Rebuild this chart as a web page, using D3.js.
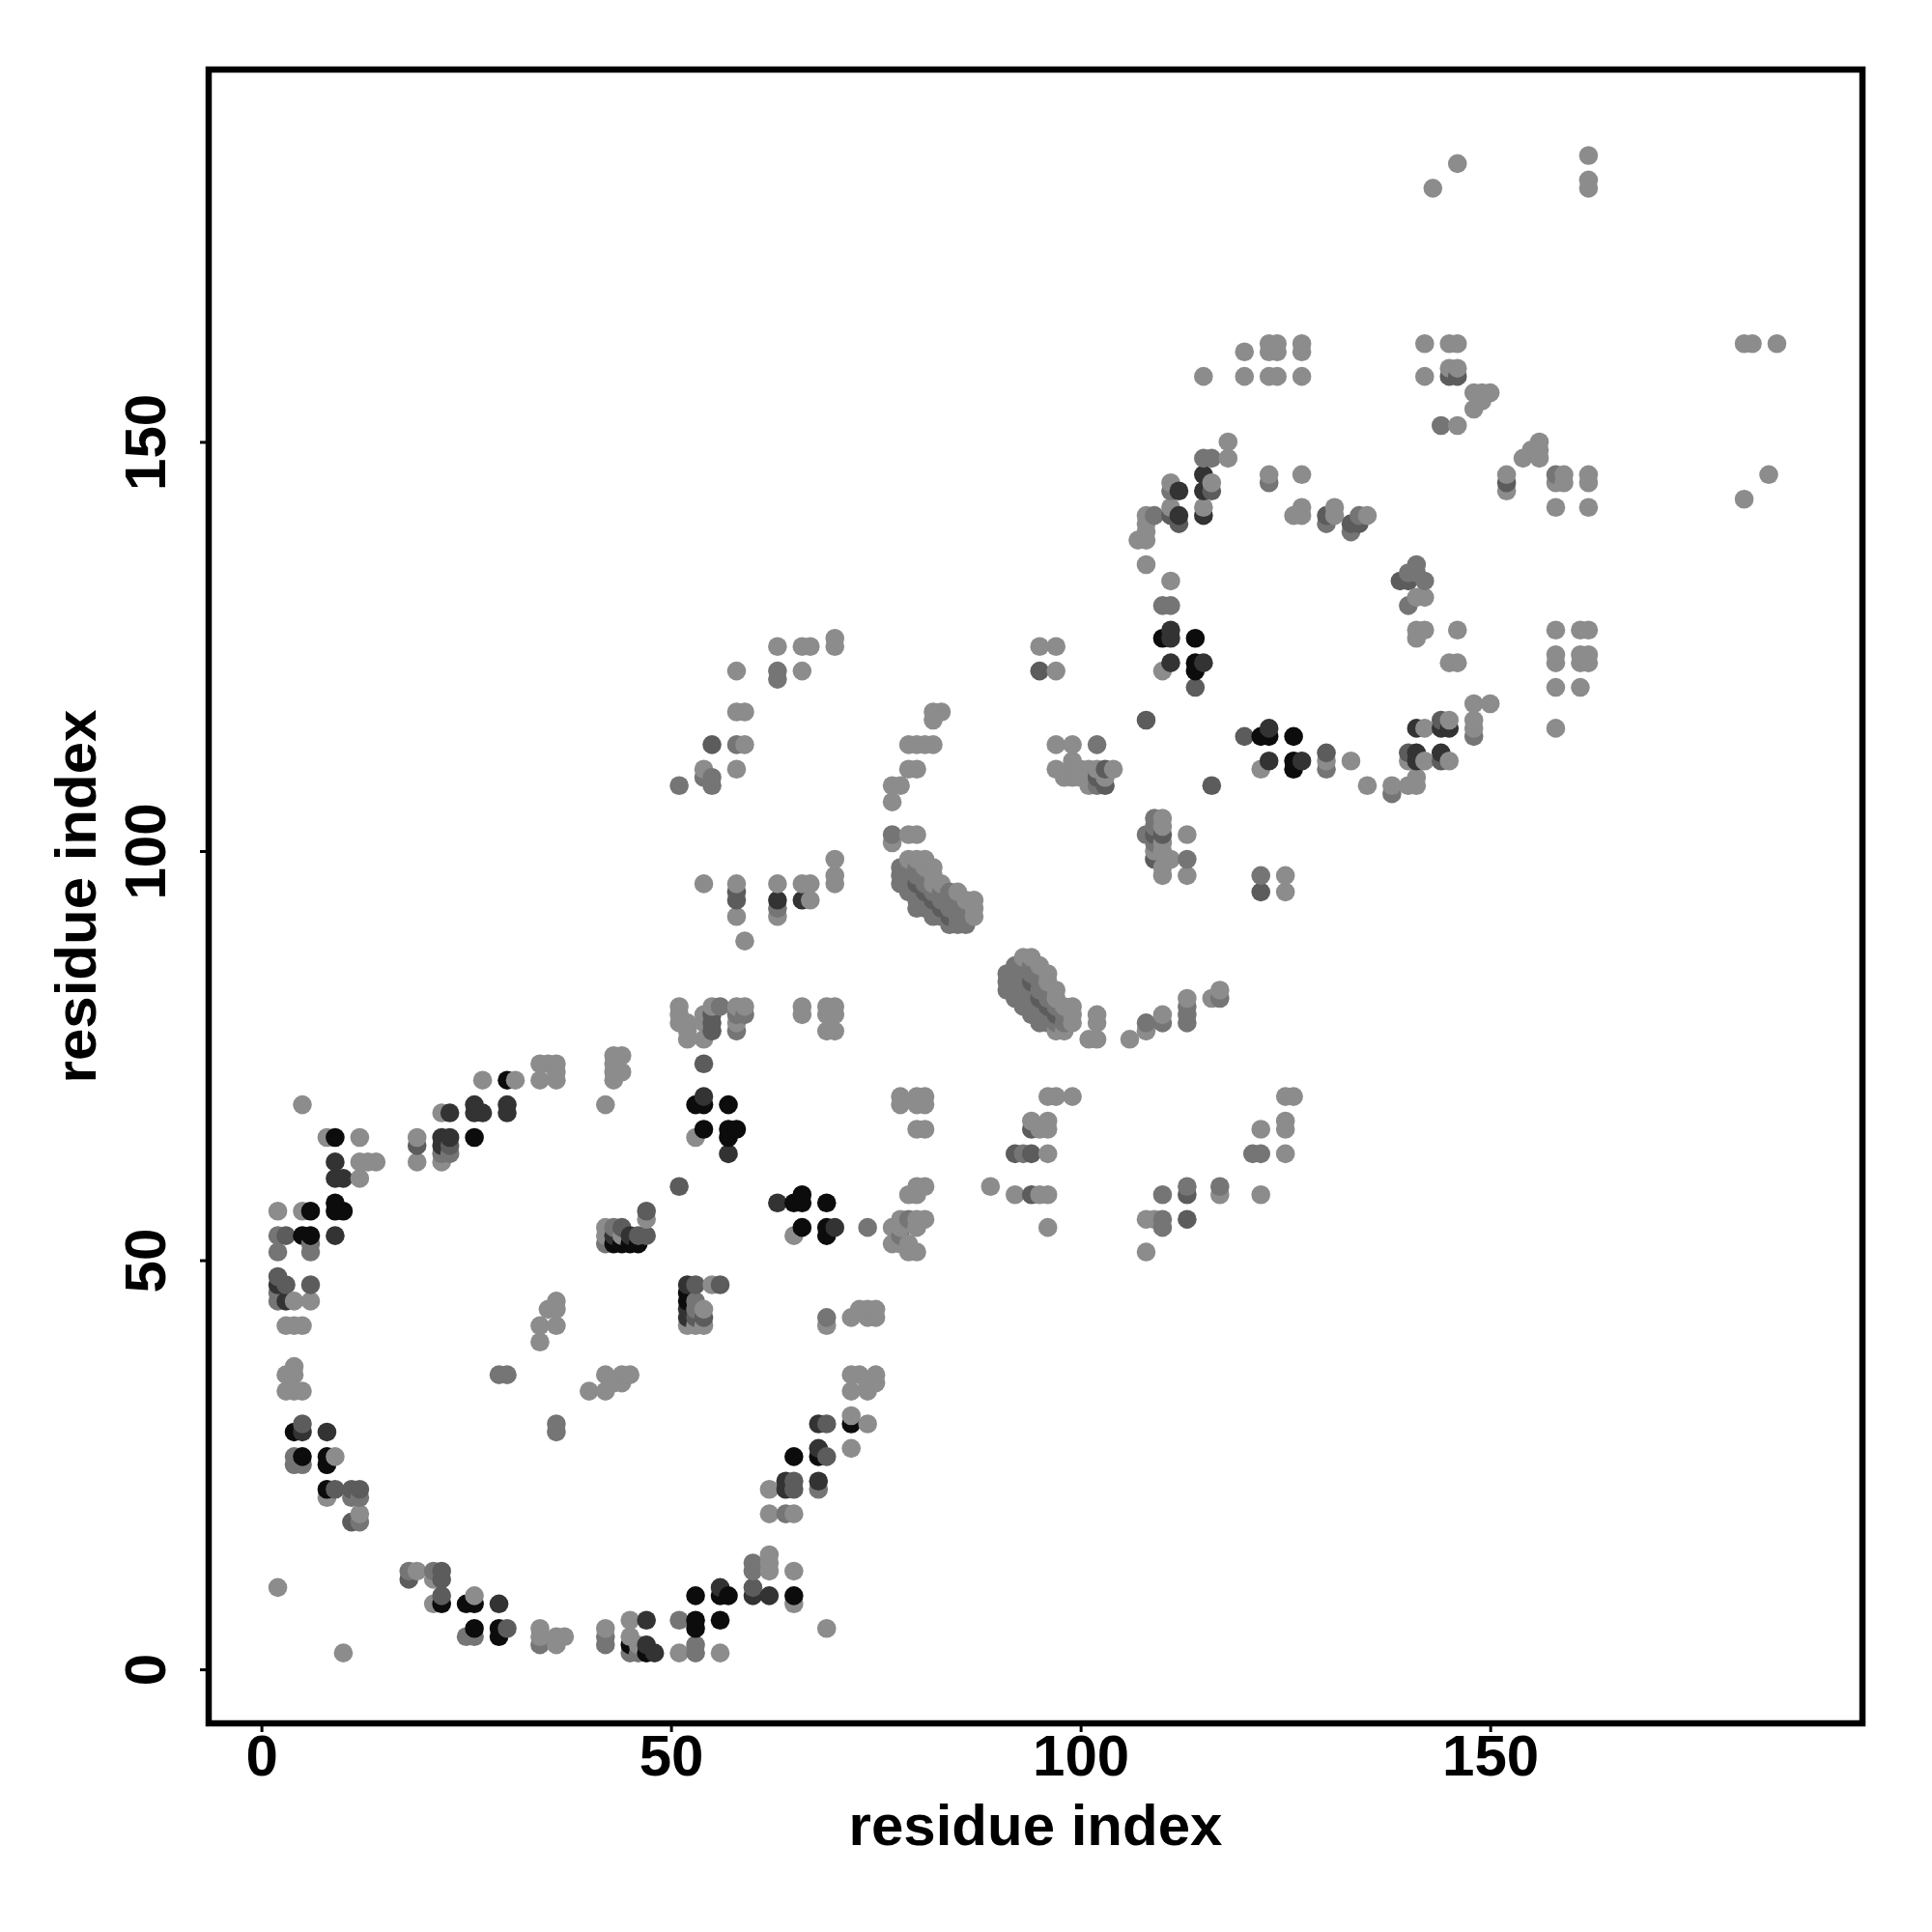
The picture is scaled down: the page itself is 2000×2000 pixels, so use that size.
<!DOCTYPE html>
<html><head><meta charset="utf-8">
<script src="https://cdn.jsdelivr.net/npm/d3@7/dist/d3.min.js"></script>
<style>html,body{margin:0;padding:0;background:#fff}svg{display:block}text{font-family:"Liberation Sans",Arial,sans-serif;font-weight:700;fill:#000}</style>
</head><body><script>
const axisTicks = [0, 50, 100, 150];
const axisTitle = "residue index";
// residue pairs [i, j], grouped by contact strength
const contactsFaint = [
[5,69],[8,65],[12,65],[14,62],[13,62],[12,62],[12,60],[2,56],[5,56],[4,45],[6,45],[3,42],[4,42],[5,42],[4,37],[3,36],[4,36],[3,34],[4,34],[5,34],[9,26],[8,21],[12,19],[19,65],[19,62],[22,62],[22,68],[27,72],[31,72],[34,74],[35,74],[36,74],[34,72],[36,72],[36,73],[42,69],[43,74],[44,75],[43,73],[44,73],[43,72],[36,45],[35,44],[36,44],[34,42],[34,40],[36,42],[40,34],[42,36],[42,34],[44,36],[45,36],[43,35],[44,35],[19,12],[21,11],[21,8],[26,9],[34,5],[34,4],[36,4],[36,3],[37,4],[42,5],[45,6],[45,4],[46,3],[51,6],[51,2],[56,2],[47,55],[42,54],[42,53],[44,54],[44,53],[10,2],[2,10],
[51,81],[51,80],[51,79],[52,79],[52,78],[52,77],[54,79],[54,80],[55,81],[54,77],[58,81],[59,81],[58,79],[66,81],[66,80],[69,81],[70,81],[69,80],[70,80],[69,78],[70,78],[43,75],[78,70],[80,70],[81,70],[78,69],[80,69],[81,69],[80,66],[81,66],[97,70],[99,70],[96,70],[94,67],[96,67],[95,66],[96,66],[96,63],[125,70],[126,70],[125,67],[122,66],[125,66],[125,63],[53,65],[81,59],[80,59],[80,58],[79,58],[89,59],[92,58],[95,58],[96,58],[122,58],[117,59],[117,58],[110,58],[96,54],[108,51],[108,55],[109,55],[79,51],[80,51],[77,54],[78,54],[80,54],[77,52],[78,52],[79,52],[81,55],[78,55],[80,55],[65,53],[74,54],[55,47],[54,44],[53,42],[52,42],[54,42],[69,42],[72,43],[73,44],[74,44],[75,44],[75,43],[74,43],[72,36],[73,36],[74,35],[75,36],[75,35],[72,34],[74,34],[72,31],[74,30],[72,27],[62,22],[62,19],[64,19],[65,19],[62,14],[60,13],[62,13],[62,12],[60,12],[65,12],[65,8],[69,5],
[63,125],[66,125],[67,125],[70,126],[70,125],[58,122],[97,125],[95,125],[97,122],[66,122],[58,117],[59,117],[82,117],[83,117],[82,116],[81,113],[82,113],[80,113],[79,113],[59,113],[97,113],[99,113],[102,113],[58,110],[54,110],[80,110],[79,110],[97,110],[99,111],[78,108],[77,108],[77,106],[77,102],[79,102],[80,102],[77,101],[113,102],[113,99],[70,99],[70,97],[54,96],[58,96],[63,96],[66,96],[67,96],[67,94],[70,96],[58,92],[63,92],[59,89],[110,97],[113,97],[125,97],[125,95],[122,97],[101,77],[102,77],[106,77],[102,80],[102,79],[108,79],[108,78],[110,80],[113,82],[116,82],[117,83],[117,82],
[79,99],[80,99],[81,99],[81,98],[82,98],[82,97],[82,96],[83,96],[85,95],[86,94],[87,94],[87,93],[87,92],
[93,87],[94,87],[95,86],[96,85],[96,84],[97,83],[97,82],[98,81],[99,81],[99,80],[99,79],[98,78],[97,78],
[118,150],[118,148],[116,148],[111,145],[115,142],[111,142],[116,145],[111,133],[108,135],[107,138],[108,138],[108,139],[108,141],[109,141],[108,140],[110,130],[110,122],[123,146],[127,146],[123,145],[127,142],[127,141],[126,141],[131,142],[131,141],[135,141],[134,141],[115,158],[120,158],[120,161],[123,162],[124,162],[123,161],[124,161],[123,158],[124,158],[127,162],[127,161],[127,158],[142,162],[142,158],[145,162],[146,162],[145,159],[146,159],[148,156],[149,156],[150,156],[149,155],[148,154],[144,152],[146,152],[146,184],[143,181],[162,185],[162,182],[162,181],[181,162],[182,162],[185,162],[184,146],[181,143],[156,150],[155,149],[156,149],[154,148],[156,148],[152,146],[152,145],[152,144],[158,146],[159,146],[158,145],[159,145],[162,146],[162,145],[158,142],[162,142],[142,131],[141,131],[142,127],[141,127],[146,127],[141,126],[158,127],[161,127],[162,127],[158,124],[161,124],[162,124],[161,123],[162,123],[158,123],[158,120],[161,120],[148,118],[150,118],[148,116],[148,115],[158,115],[142,115],[145,116],[146,123],[145,123],[130,111],[133,111],[130,110],[122,110],[142,111],[145,111],[135,108],[138,108],[138,107],[140,108],[141,109],[141,108],[140,111],[110,104],[110,103],[109,102],[110,102],[109,100],[110,100],[110,101],[111,99],[110,98],[99,110],[100,110],[101,110],[102,110],[103,110],[104,110],[98,109],[99,109],[100,109],[101,109],[103,109],[102,108],[101,108]
];
const contactsPale = [
[2,53],[3,53],[2,51],[6,52],[6,51],[2,48],[2,46],[2,45],[3,47],[5,30],[5,25],[4,25],[4,26],[9,22],[11,22],[12,22],[11,21],[12,21],[12,18],[19,64],[22,63],[23,63],[18,12],[18,11],[21,12],[22,9],[25,4],[26,4],[30,5],[34,3],[42,4],[42,3],[45,2],[46,2],[53,2],[53,3],[47,3],[29,36],[30,36],[36,30],[36,29],[43,54],[42,52],[46,53],[47,53],[55,79],[56,81],[58,80],[59,80],[58,78],[53,45],[53,44],[53,43],[54,43],[69,43],[64,19],[60,13],[60,12],[68,22],[74,54],[110,55],[110,54],[110,58],[113,59],[113,58],[117,59],[121,63],[122,63],[92,63],[93,63],[79,55],[78,53],[51,6],[54,74],[95,122],[63,122],[63,121],[54,109],[55,109],[55,108],[51,108],[58,113],[102,113],[102,108],[77,102],[108,102],[109,103],[109,101],[113,79],[113,80],[113,81],[108,79],[110,79],[117,82],[122,95],[58,95],[63,93],
[78,98],[78,97],[78,96],[79,98],[80,98],[79,97],[80,97],[81,97],[79,96],[80,96],[81,96],[79,95],[80,95],[81,95],[82,95],[83,95],[84,95],[80,94],[81,94],[82,94],[83,94],[84,94],[85,94],[80,93],[81,93],[82,93],[83,93],[84,93],[85,93],[86,93],[82,92],[83,92],[84,92],[85,92],[86,92],[84,91],[85,91],[86,91],
[92,86],[93,86],[94,86],[91,85],[92,85],[93,85],[94,85],[95,85],[91,84],[92,84],[93,84],[94,84],[95,84],[91,83],[92,83],[93,83],[94,83],[95,83],[96,83],[92,82],[93,82],[94,82],[95,82],[96,82],[93,81],[94,81],[95,81],[96,81],[97,81],[94,80],[95,80],[96,80],[97,80],[98,80],[95,79],[96,79],[97,79],[98,79],
[110,130],[111,130],[140,130],[139,133],[141,134],[141,135],[140,134],[130,141],[130,140],[133,139],[133,140],[134,141],[152,145],[123,145],[158,146],[109,141],[111,144],[111,141],[115,148],[116,148],[144,152],[145,158],[146,158],[148,114],[130,110],[138,107],[142,133],[113,99],[109,104],[108,102],[109,102],[109,99],[122,97]
];
const contactsMid = [
[3,53],[3,47],[2,48],[6,47],[6,53],[5,30],[9,22],[11,18],[11,22],[12,22],[18,11],[22,12],[22,11],[22,9],[19,64],[23,64],[30,5],[45,53],[44,54],[43,53],[47,56],[47,53],[46,53],[53,47],[53,43],[54,43],[55,79],[55,80],[55,78],[56,47],[69,26],[69,30],[65,23],[65,22],[60,10],[54,74],[47,3],[56,6],[51,59],[58,95],[55,113],[63,94],[66,94],[95,122],[122,95],[108,116],[116,108],[120,114],[114,120],[111,141],[112,140],[130,141],[133,140],[134,140],[139,133],[140,133],[144,111],[144,116],[140,112],[141,111],[94,58],[94,63],[113,55],[113,58],[92,63],[109,102],[110,102],[109,99],[103,110],[102,109],[103,108],[116,144],[94,66],[58,94],[130,112],[152,145],[145,158],[146,158],
[80,96],[81,95],[82,94],[83,93],[84,92],[94,84],[95,82],[96,81],[97,80]
];
const contactsDark = [
[9,62],[9,60],[10,60],[9,53],[5,29],[8,29],[22,65],[23,65],[22,64],[23,68],[26,69],[26,68],[27,68],[30,69],[30,68],[2,47],[3,45],[29,8],[47,6],[57,63],[63,57],[68,30],[68,27],[64,23],[64,22],[68,23],[56,10],[60,9],[62,9],[48,2],[47,3],[43,53],[45,53],[52,44],[52,43],[52,47],[70,54],[54,70],[111,127],[110,126],[111,126],[111,123],[115,123],[123,115],[123,111],[127,111],[112,144],[115,146],[115,144],[112,141],[115,141],[141,115],[144,115],[145,115],[141,112],[144,112],[141,111],[63,94],[66,94]
];
const contactsBlack = [
[9,65],[6,56],[9,57],[9,56],[10,56],[5,53],[6,53],[4,29],[5,26],[8,26],[8,25],[8,22],[22,8],[25,8],[26,8],[26,5],[29,5],[29,4],[30,72],[26,65],[53,69],[54,69],[57,69],[54,66],[57,66],[58,66],[57,65],[66,58],[65,57],[66,57],[69,57],[66,54],[69,54],[69,53],[53,9],[56,9],[57,9],[65,9],[53,6],[53,5],[56,6],[47,2],[45,3],[43,52],[44,52],[45,52],[46,52],[52,46],[52,45],[72,30],[65,26],[68,26],[122,114],[123,114],[126,114],[126,110],[126,111],[114,126],[114,123],[114,122],[110,126]
];
const strengthGroups = [contactsFaint, contactsPale, contactsMid, contactsDark, contactsBlack];
const strengthGreys = ["#8c8c8c", "#757575", "#5c5c5c", "#333333", "#0c0c0c"];

const x = d3.scaleLinear().domain([-6.44, 195.44]).range([216, 1928]);
const y = d3.scaleLinear().domain([-6.6, 195.5]).range([1784, 72]);
const grey = d3.scaleOrdinal().domain(d3.range(strengthGroups.length)).range(strengthGreys);

// keep the strongest reading of a pair, then paint in residue order
const byPair = new Map();
strengthGroups.forEach((g, s) => g.forEach(([i, j]) => byPair.set(i + "," + j, {i, j, s})));
const points = Array.from(byPair.values()).sort((a, b) => d3.ascending(a.i, b.i) || d3.ascending(a.j, b.j));

const svg = d3.select("body").append("svg").attr("width", 2000).attr("height", 2000);
svg.append("rect").attr("width", 2000).attr("height", 2000).attr("fill", "#fff");

svg.append("g").selectAll("circle").data(points).join("circle")
  .attr("cx", d => x(d.i)).attr("cy", d => y(d.j)).attr("r", 9.8).attr("fill", d => grey(d.s));

svg.append("rect").attr("x", 216).attr("y", 72).attr("width", 1712).attr("height", 1712)
  .attr("fill", "none").attr("stroke", "#000").attr("stroke-width", 6.5);

const xAxis = svg.append("g").attr("transform", "translate(0,1784)")
  .call(d3.axisBottom(x).tickValues(axisTicks).tickSize(9).tickFormat(d3.format("d")));
xAxis.select(".domain").remove();
xAxis.selectAll("line").attr("stroke", "#000").attr("stroke-width", 3);
xAxis.selectAll("text").attr("y", 0).attr("dy", 0).attr("transform", "translate(0,54)")
  .attr("text-anchor", "middle").style("font-size", "60px");

const yAxis = svg.append("g").attr("transform", "translate(216,0)")
  .call(d3.axisLeft(y).tickValues(axisTicks).tickSize(9).tickFormat(d3.format("d")));
yAxis.select(".domain").remove();
yAxis.selectAll("line").attr("stroke", "#000").attr("stroke-width", 3);
yAxis.selectAll("text").attr("x", 0).attr("dy", 0).attr("text-anchor", "middle")
  .attr("transform", "translate(-45,0) rotate(-90)").style("font-size", "60px");

svg.append("text").attr("x", 1072).attr("y", 1910).attr("text-anchor", "middle")
  .style("font-size", "60px").text(axisTitle);
svg.append("text").attr("transform", "translate(99,928) rotate(-90)").attr("text-anchor", "middle")
  .style("font-size", "60px").text(axisTitle);
</script></body></html>
